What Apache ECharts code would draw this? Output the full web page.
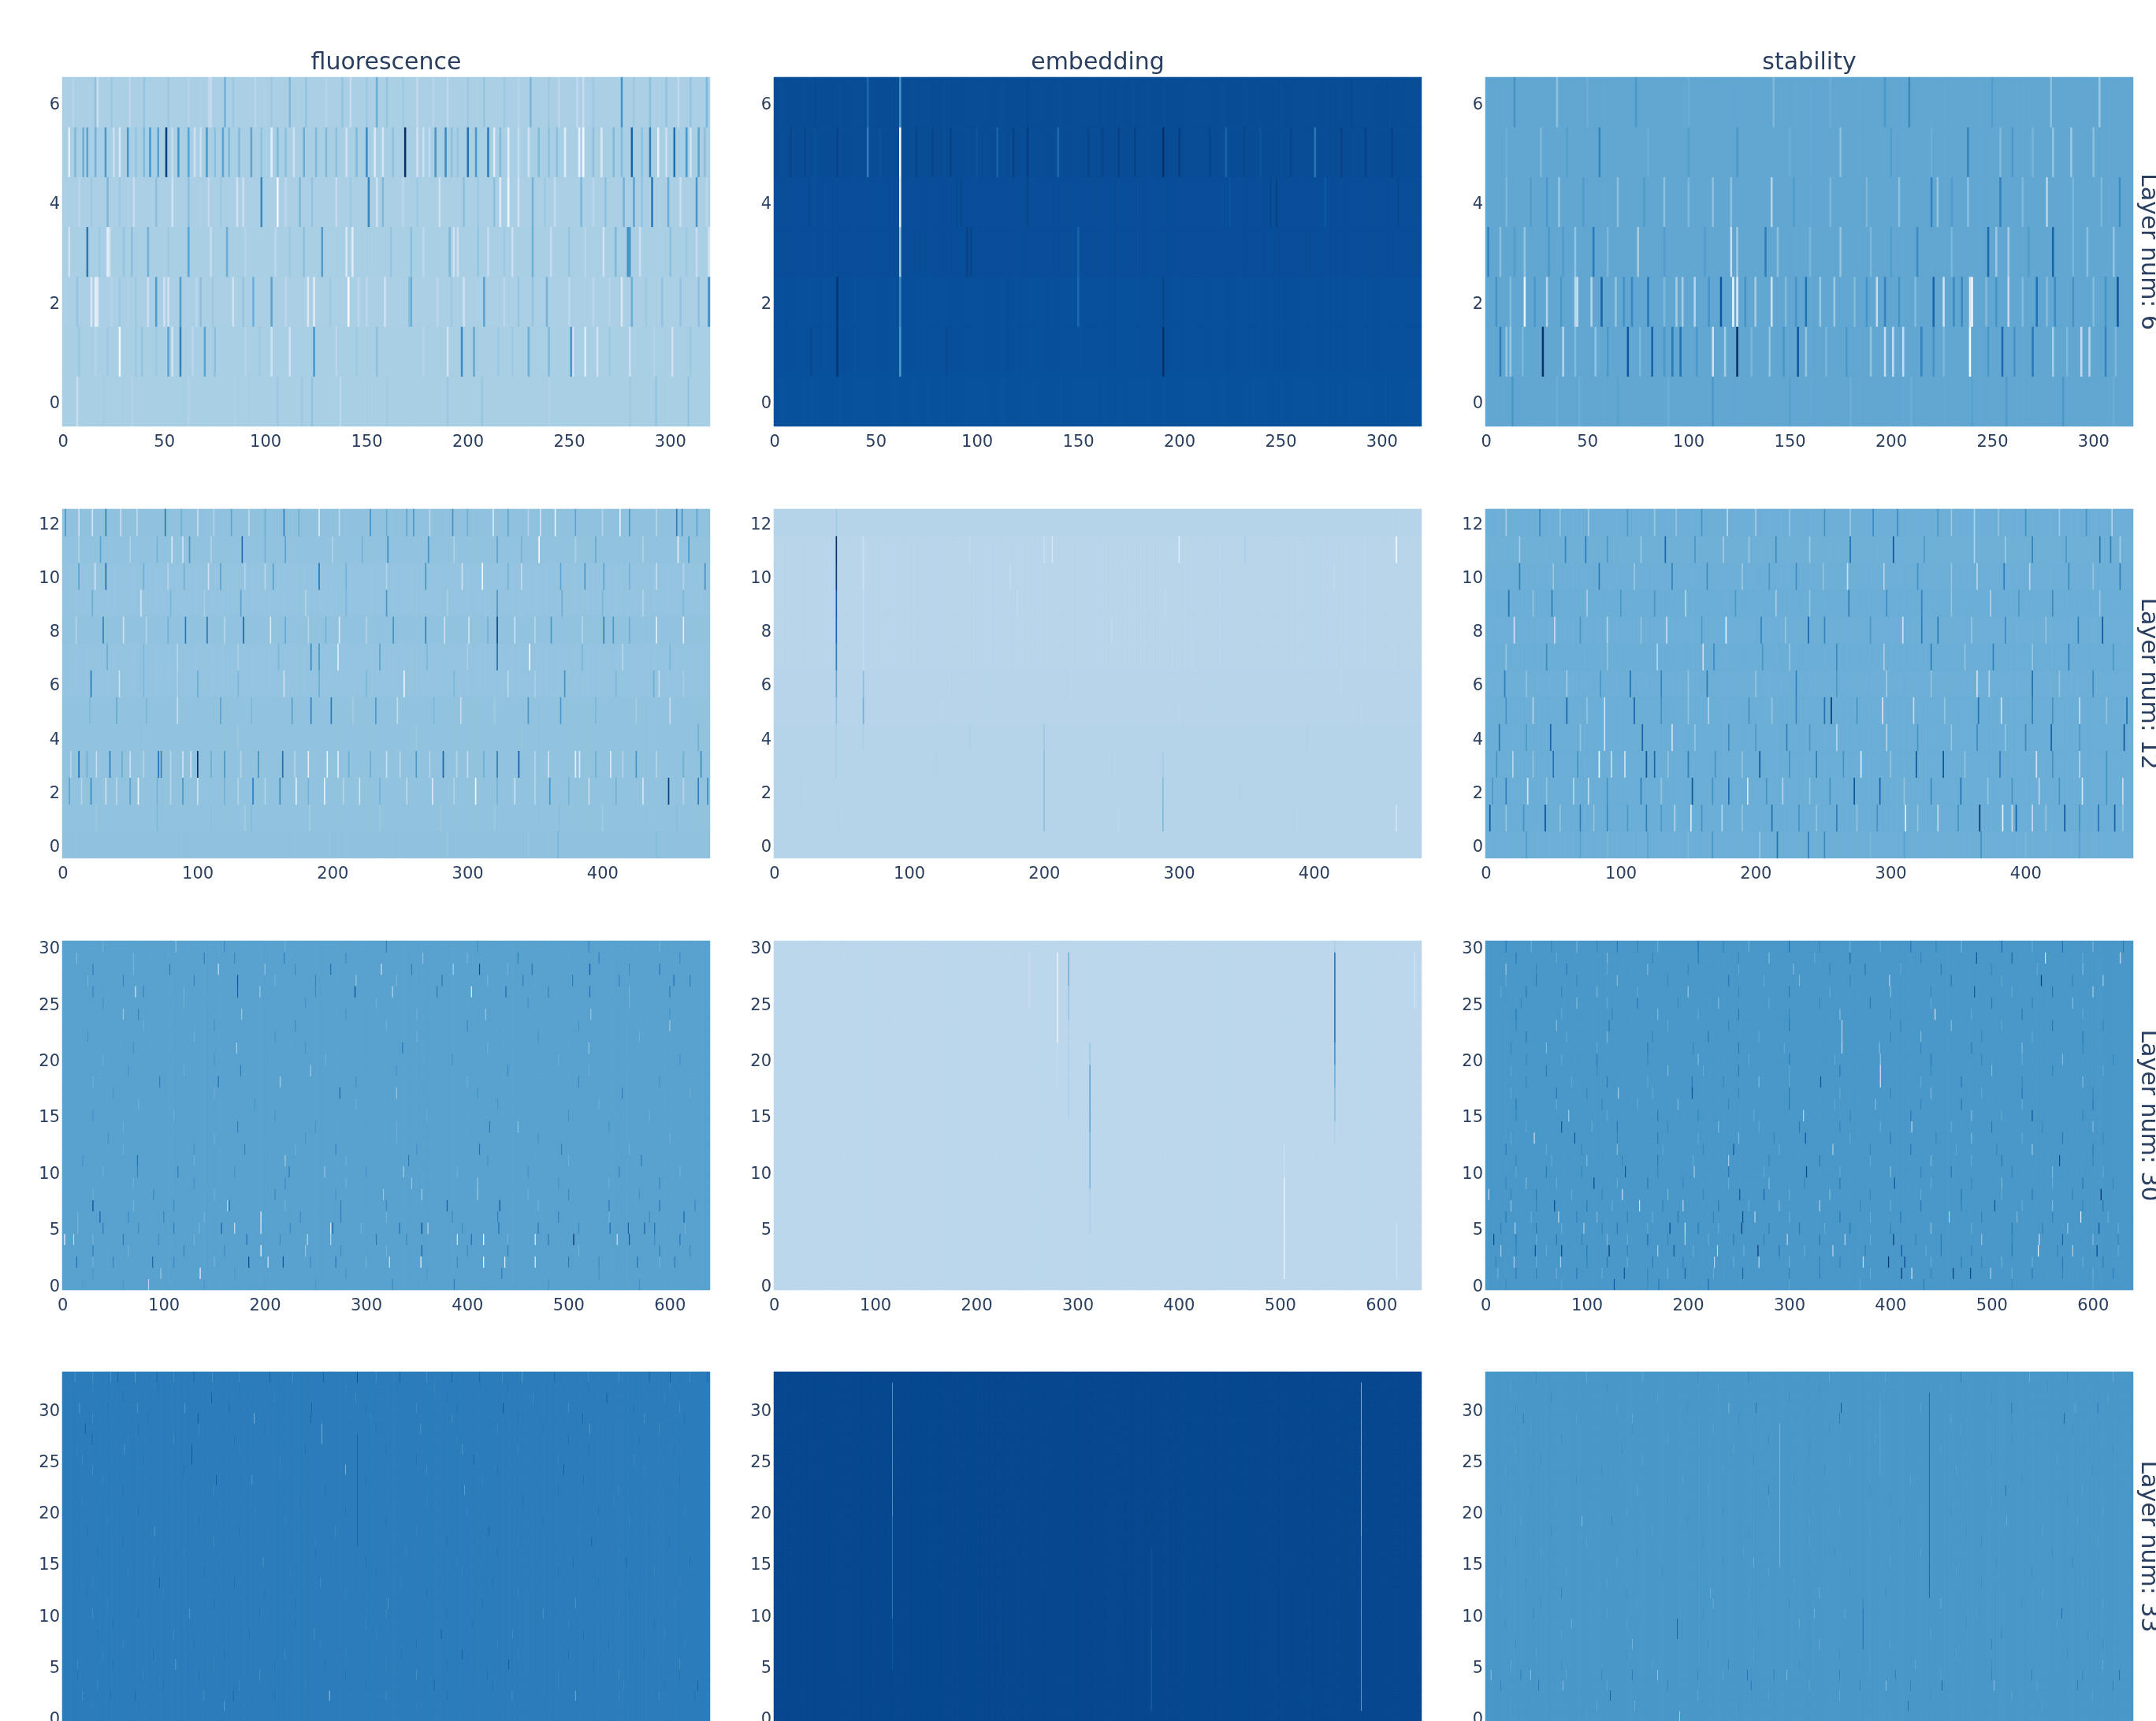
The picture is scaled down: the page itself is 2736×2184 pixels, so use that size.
<!DOCTYPE html>
<html><head><meta charset="utf-8">
<style>html,body{margin:0;padding:0;background:#fff;overflow:hidden}#c{width:2736px;height:2184px}</style>
<script src="https://cdn.jsdelivr.net/npm/echarts@6/dist/echarts.min.js"></script>
</head><body><div id="c"></div>
<script>
const columnTitles = ['fluorescence', 'embedding', 'stability'];
const layerNums = [6, 12, 30, 33];
const embedDims = [320, 480, 640, 1280];
const xTickSteps = [50, 100, 100, 200];
const yTickSteps = [2, 2, 5, 5];
const blues = ['#f7fbff','#deebf7','#c6dbef','#9ecae1','#6baed6','#4292c6','#2171b5','#08519c','#08306b'];

// Row background levels (0 = palest, 1 = darkest), row 0 first
const f6Base = [.34,.34,.335,.34,.335,.34,.335];
const e6Base = [.875,.88,.88,.885,.885,.89,.89];
const s6Base = [.53,.53,.53,.53,.53,.53,.53];
const f12Base = [.41,.405,.405,.405,.405,.405,.40,.40,.405,.40,.40,.405,.41];
const e12Base = [.30,.30,.30,.30,.30,.298,.298,.295,.295,.295,.295,.295,.30];
const s12Base = [.495,.50,.50,.50,.50,.50,.495,.50,.495,.50,.495,.49,.495];
const f30Base = Array.from({length:31},()=>.555);
const e30Base = Array.from({length:31},()=>.28);
const s30Base = Array.from({length:31},()=>.60);
const f33Base = Array.from({length:34},()=>.705);
const e33Base = Array.from({length:34},()=>.905);
const s33Base = Array.from({length:34},()=>.60);

// Streaks: row -> [column, level, column, level, ...]
const f6Streaks = {
 0:[7,.24,34,.31,106,.38,118,.38,123,.40,137,.28,190,.38,207,.39,280,.38,293,.40,309,.40,20,.36,62,.31,85,.32,160,.36,240,.32],
 1:[28,.02,39,.40,52,.55,54,.18,58,.68,70,.55,75,.42,103,.20,112,.20,124,.60,155,.42,190,.20,197,.65,203,.52,230,.50,240,.45,251,.60,252,.20,258,.12,264,.20,280,.22,301,.20,8,.38,16,.30,36,.38,46,.38,90,.30,135,.28,215,.38,270,.38,22,.38,64,.29,97,.38,145,.38,178,.30,222,.38,292,.30,310,.38],
 2:[14,.14,16,.10,17,.12,42,.22,46,.58,50,.20,52,.20,58,.58,84,.20,94,.50,103,.55,121,.15,124,.12,141,.00,159,.20,171,.42,172,.50,198,.20,208,.55,239,.48,276,.15,281,.50,314,.42,319,.62,7,.40,28,.38,68,.42,74,.38,110,.28,150,.28,185,.28,225,.40,250,.28,262,.28,296,.40,24,.30,36,.38,66,.28,89,.40,132,.38,146,.28,192,.38,218,.28,232,.40,270,.30,288,.38,305,.40],
 3:[3,.20,12,.72,22,.10,23,.20,34,.42,42,.48,62,.55,81,.50,119,.42,128,.58,140,.15,143,.12,162,.40,191,.45,193,.20,195,.22,232,.50,241,.25,267,.20,273,.45,279,.62,280,.60,285,.22,313,.25,319,.20,30,.40,73,.25,105,.28,172,.42,210,.25,222,.22,250,.40,300,.42,18,.38,52,.38,90,.30,112,.38,178,.28,205,.40,218,.38,258,.29,308,.38],
 4:[22,.46,35,.25,54,.20,62,.42,86,.20,89,.22,98,.65,106,.03,117,.45,123,.40,151,.68,155,.20,158,.45,186,.20,213,.42,216,.12,220,.04,225,.20,232,.48,256,.45,277,.48,282,.55,291,.72,299,.50,313,.60,14,.38,46,.42,72,.27,135,.25,175,.38,198,.42,243,.26,268,.42,305,.22,8,.28,28,.38,78,.38,110,.28,142,.38,168,.28,205,.38,238,.38,262,.28,286,.40,318,.28],
 5:[3,.10,6,.45,10,.50,12,.55,21,.60,28,.15,32,.60,43,.60,47,.55,51,.95,57,.60,62,.55,71,.60,79,.55,93,.55,103,.10,106,.45,119,.50,150,.65,154,.15,158,.18,169,1.0,175,.20,184,.60,189,.65,200,.75,204,.60,210,.70,213,.12,220,.10,248,.12,255,.08,257,.02,266,.15,281,.80,290,.70,294,.10,302,.75,308,.60,314,.55,36,.40,65,.20,82,.45,110,.42,130,.45,140,.20,178,.22,195,.40,230,.20,240,.42,272,.45,286,.42,310,.18,16,.48,25,.22,40,.45,54,.24,68,.22,75,.42,87,.44,98,.42,114,.22,125,.45,135,.42,145,.45,163,.42,181,.25,192,.42,216,.44,225,.24,235,.44,244,.42,262,.42,276,.44,298,.22,317,.42],
 6:[16,.42,17,.22,33,.28,40,.40,72,.27,73,.25,80,.48,84,.38,112,.45,120,.40,138,.40,142,.25,155,.50,160,.40,175,.27,190,.27,208,.40,231,.46,245,.28,254,.27,257,.24,276,.62,290,.42,298,.40,304,.27,310,.40,318,.46,5,.30,24,.38,52,.38,62,.30,95,.29,103,.38,130,.30,150,.38,168,.38,183,.30,200,.38,218,.38,225,.30,240,.38,262,.38,282,.38]
};
const e6Streaks = {
 1:[31,.98,62,.60,192,1.0,18,.90,85,.90],
 2:[31,.98,62,.65,150,.78,192,.91,135,.89],
 3:[62,.38,150,.80,95,.93,97,.92,72,.89,262,.89],
 4:[62,.10,17,.90,90,.91,92,.91,125,.91,245,.91,248,.92,308,.91,272,.85,225,.86],
 5:[8,.92,15,.92,31,.93,46,.70,62,.00,110,.80,125,.95,140,.78,178,.93,192,1.0,200,.95,223,.80,267,.72,87,.93,170,.93,280,.93,292,.93,305,.93,20,.87,52,.87,70,.92,78,.92,100,.86,118,.93,155,.92,162,.92,215,.92,232,.92,240,.86,255,.92],
 6:[46,.78,62,.62,20,.90,125,.90,285,.90]
};
const s6Streaks = {
 0:[13,.60,35,.50,46,.50,112,.60,180,.50,257,.58,285,.60,310,.50,65,.56,90,.50,150,.56,210,.50,240,.56],
 1:[7,.70,10,.40,12,.38,28,1.0,38,.30,54,.40,70,.85,82,.80,92,.72,96,.75,112,.20,118,.35,124,1.0,140,.40,154,.85,158,.40,190,.40,197,.25,201,.25,206,.25,215,.68,221,.62,239,.00,255,.78,261,.62,270,.72,280,.35,294,.25,298,.30,306,.68,18,.46,44,.44,60,.60,76,.46,88,.60,104,.60,131,.46,147,.60,168,.46,178,.60,226,.46,248,.60,287,.46,311,.46],
 2:[5,.62,19,.08,30,.30,44,.28,45,.25,52,.30,57,.80,64,.40,72,.66,80,.72,94,.35,97,.35,103,.30,116,.85,122,.05,124,.12,133,.36,141,.20,158,.75,165,.38,172,.38,193,.25,197,.68,221,.80,226,.20,231,.65,235,.65,239,.15,240,.05,258,.25,272,.75,281,.65,290,.62,312,.85,12,.44,24,.60,37,.60,68,.62,88,.45,110,.62,128,.62,148,.44,153,.62,182,.44,188,.62,204,.62,212,.44,247,.44,252,.62,265,.44,277,.44,300,.44,306,.62],
 3:[1,.68,7,.42,19,.40,31,.60,44,.40,53,.72,75,.35,121,.22,124,.38,138,.70,144,.42,175,.40,213,.65,248,.78,252,.38,258,.35,280,.80,297,.42,310,.40,14,.58,38,.58,60,.46,88,.58,108,.58,160,.46,190,.46,200,.58,230,.46,268,.58,290,.46],
 4:[30,.60,36,.40,65,.42,88,.42,112,.42,121,.42,141,.30,204,.42,220,.68,223,.40,238,.42,254,.68,265,.45,277,.30,313,.65,10,.46,22,.58,48,.58,78,.58,100,.46,152,.58,170,.46,188,.46,230,.58,290,.46,304,.46],
 5:[27,.45,56,.68,124,.60,175,.42,238,.68,254,.45,260,.60,280,.40,289,.38,300,.42,10,.50,40,.57,80,.50,100,.57,150,.50,200,.57,220,.50,270,.47],
 6:[14,.62,35,.42,74,.60,142,.45,197,.60,209,.66,279,.42,303,.38,50,.50,100,.50,170,.50,250,.58]
};
const f12Streaks = {
 0:[92,.42,367,.46,440,.44,60,.42,200,.42,285,.39,345,.39],
 1:[70,.45,183,.36,368,.43,135,.36,140,.44,280,.38,320,.38,400,.37,455,.43,25,.38,110,.42,235,.38],
 2:[21,.65,32,.20,56,.05,89,.60,141,.70,161,.65,173,.10,194,.07,274,.15,306,.05,361,.60,449,.95,471,.70,478,.65,5,.55,50,.55,100,.22,220,.20,335,.22,390,.22,430,.18,14,.30,40,.28,70,.48,80,.30,120,.48,130,.30,150,.30,182,.48,208,.30,235,.48,255,.28,290,.30,322,.48,350,.30,375,.48,410,.48,460,.30],
 3:[12,.75,35,.70,71,.75,73,.68,89,.20,95,.20,100,1.0,163,.75,182,.10,196,.08,204,.12,262,.60,282,.80,322,.70,338,.85,380,.10,383,.15,406,.15,473,.65,25,.25,50,.22,120,.60,145,.62,240,.22,300,.25,360,.20,425,.62,6,.30,18,.50,44,.50,60,.30,80,.30,110,.50,132,.30,172,.30,212,.50,228,.50,250,.30,272,.30,292,.30,312,.50,350,.30,395,.50,415,.30,440,.30,460,.50],
 4:[58,.42,262,.38,471,.50,130,.38,340,.39],
 5:[117,.55,170,.55,184,.68,199,.72,232,.60,248,.25,345,.60,369,.60,40,.52,85,.25,295,.25,450,.25,20,.46,62,.46,140,.46,215,.36,275,.46,320,.36,395,.46,425,.36],
 6:[21,.72,42,.20,164,.20,253,.07,372,.62,438,.50,442,.25,100,.50,190,.50,330,.28,60,.46,85,.34,130,.46,225,.46,290,.46,350,.34,410,.46,460,.34],
 7:[184,.65,190,.60,204,.10,235,.55,322,.75,346,.05,33,.50,85,.30,415,.28,60,.46,130,.34,160,.46,270,.46,300,.34,385,.46,450,.46],
 8:[30,.68,91,.72,107,.72,134,.78,154,.15,205,.15,245,.62,269,.68,283,.20,301,.20,322,.90,362,.60,401,.70,408,.60,440,.12,460,.12,45,.20,165,.52,335,.20,10,.30,62,.30,78,.48,120,.30,182,.30,195,.48,225,.30,315,.48,350,.30,385,.30,420,.50],
 9:[58,.20,132,.55,240,.60,322,.60,370,.50,22,.50,180,.30,430,.30,80,.46,105,.34,210,.46,285,.34,400,.46,460,.46],
 10:[12,.55,24,.20,32,.78,108,.20,117,.55,156,.55,190,.72,269,.62,296,.20,311,.02,369,.55,387,.60,401,.55,476,.62,60,.50,150,.28,340,.25,440,.25,78,.30,90,.48,135,.30,210,.48,240,.30,330,.48,420,.48,460,.30],
 11:[81,.15,89,.20,94,.60,133,.78,165,.55,241,.65,271,.62,322,.55,353,.02,456,.10,464,.60,28,.55,395,.52,12,.32,50,.32,70,.48,110,.32,150,.48,200,.32,222,.48,290,.32,340,.48,380,.32,430,.32],
 12:[12,.20,22,.18,32,.70,43,.22,76,.72,164,.70,190,.15,228,.62,255,.55,289,.62,319,.15,354,.20,365,.08,413,.10,455,.70,459,.62,2,.60,100,.25,125,.55,260,.60,330,.55,380,.55,420,.60,470,.55,55,.28,88,.50,112,.30,138,.28,150,.50,175,.50,205,.28,240,.50,272,.28,300,.50,345,.30,400,.30,440,.30]
};
const e12Streaks = {
 1:[200,.42,288,.45,461,.18,48,.32,255,.28,385,.32],
 2:[200,.42,288,.44,20,.32,345,.32],
 3:[46,.34,200,.42,288,.36,120,.32,250,.32],
 4:[46,.34,66,.33,200,.38,145,.33,395,.32],
 5:[46,.42,66,.48,125,.28,300,.28,435,.28],
 6:[46,.52,66,.42,130,.28,220,.28,420,.28],
 7:[46,.70,66,.26,295,.27,310,.28,460,.28],
 8:[46,.80,66,.25,250,.27,420,.28],
 9:[46,.82,66,.25,180,.26,290,.27],
 10:[46,.95,66,.20,175,.26,415,.27],
 11:[46,1.0,66,.22,200,.24,206,.18,300,.12,349,.33,461,.02,145,.27],
 12:[46,.36,461,.31]
};
const s12Streaks = {
 0:[168,.60,203,.38,216,.75,239,.70,251,.65,367,.62,30,.58,70,.56,120,.56,310,.56,440,.56,90,.46,150,.45,285,.45,400,.46],
 1:[3,.85,44,.88,119,.70,152,.15,212,.75,311,.10,366,1.0,383,.08,393,.80,405,.25,429,.85,454,.75,466,.80,70,.70,90,.65,140,.30,175,.30,260,.70,335,.25,390,.25,15,.40,28,.62,55,.40,80,.40,105,.60,130,.60,160,.62,190,.40,232,.62,245,.40,275,.40,290,.62,320,.40,350,.62,415,.40,440,.62,472,.40],
 2:[31,.20,76,.25,153,.85,180,.75,194,.15,273,.85,292,.80,352,.75,442,.15,472,.25,15,.70,65,.30,115,.70,220,.30,330,.65,410,.30,5,.60,45,.40,90,.62,130,.40,168,.62,208,.62,240,.40,255,.62,310,.40,372,.40,390,.62,425,.62,460,.62],
 3:[84,.05,93,.25,103,.20,119,.85,125,.78,203,.85,278,.15,319,.85,339,.85,381,.70,408,.20,20,.30,50,.75,150,.70,245,.70,440,.30,8,.62,35,.40,68,.62,135,.40,170,.62,190,.40,225,.62,265,.62,300,.40,355,.40,420,.62,460,.62],
 4:[48,.80,88,.20,116,.80,138,.20,223,.70,297,.30,364,.65,419,.80,473,.85,10,.72,180,.65,260,.30,400,.65,30,.60,70,.40,155,.40,200,.60,240,.60,320,.60,345,.40,385,.40,440,.60],
 5:[60,.80,88,.20,110,.80,230,.68,251,.75,256,.95,294,.18,317,.25,365,.75,382,.20,405,.70,475,.75,35,.30,165,.30,440,.25,15,.62,75,.40,130,.62,150,.40,195,.62,212,.40,275,.62,340,.40,420,.62,460,.40],
 6:[14,.70,107,.75,164,.72,230,.70,297,.35,364,.20,373,.30,405,.75,60,.35,130,.68,450,.65,30,.40,85,.60,150,.40,200,.40,260,.60,330,.40,425,.40],
 7:[127,.30,161,.20,169,.65,295,.35,376,.70,432,.70,45,.65,260,.65,330,.70,15,.40,90,.40,205,.60,225,.40,355,.40,405,.40,465,.60],
 8:[21,.20,51,.25,134,.22,178,.10,204,.68,239,.80,251,.68,309,.20,323,.72,335,.72,439,.70,457,.85,90,.30,385,.65,70,.60,115,.40,160,.60,222,.40,285,.60,360,.40,415,.40],
 9:[17,.75,49,.70,125,.60,148,.30,269,.70,297,.65,323,.68,374,.32,75,.35,215,.35,420,.65,35,.40,100,.60,185,.60,240,.40,345,.40,395,.60,455,.40],
 10:[84,.72,138,.68,164,.65,268,.22,295,.30,364,.30,384,.70,403,.30,432,.65,25,.70,230,.65,470,.70,50,.38,110,.38,190,.38,210,.60,250,.40,320,.62,345,.40,450,.40],
 11:[59,.68,74,.72,133,.80,176,.35,270,.75,302,.85,362,.30,405,.68,455,.72,463,.70,470,.35,25,.35,215,.65,90,.60,115,.38,155,.60,195,.38,240,.38,325,.60,385,.38,430,.60],
 12:[76,.35,141,.40,179,.30,251,.62,287,.65,305,.65,362,.30,464,.30,15,.35,40,.65,105,.60,200,.35,335,.60,400,.62,55,.40,125,.38,160,.62,225,.40,270,.38,345,.38,380,.40,425,.38,445,.62]
};
const f30Streaks = {
 0:[85,.30,326,.65,387,.70,60,.60,480,.62,570,.62,20,.58,140,.60,250,.60],
 1:[97,.40,136,.10,434,.70,280,.62,530,.62,30,.60,170,.60,360,.60],
 2:[14,.75,89,.80,184,.90,203,.20,218,.85,323,.25,354,.10,416,.05,437,.10,467,.15,568,.75,50,.68,270,.72,500,.72,605,.72,30,.48,110,.65,150,.48,245,.65,300,.48,390,.65,530,.65,590,.48],
 3:[196,.05,355,.80,30,.70,120,.68,240,.40,440,.70,590,.70,65,.48,160,.65,275,.65,320,.48,400,.65,510,.48,620,.65],
 4:[2,.10,11,.30,182,.75,242,.30,265,.30,390,.20,404,.75,416,.02,467,.15,505,.98,548,.25,560,.85,60,.72,310,.72,480,.72,610,.72,30,.48,95,.65,130,.48,215,.65,340,.65,440,.48,585,.65],
 5:[157,.80,170,.25,196,.15,265,.12,267,.80,333,.75,355,.90,361,.30,431,.75,541,.75,559,.80,40,.70,110,.70,470,.72,575,.80,585,.75,15,.48,75,.65,135,.48,225,.65,295,.48,395,.65,510,.65,615,.48],
 6:[37,.80,196,.10,614,.80,100,.68,275,.70,430,.70,490,.68,15,.48,65,.65,140,.48,235,.65,320,.48,385,.65,540,.48,580,.65],
 7:[30,.88,163,.30,380,.82,432,.85,165,.72,275,.70,540,.70,590,.72,70,.48,110,.65,220,.48,320,.65,470,.48,625,.65],
 8:[317,.40,355,.38,410,.38,90,.66,210,.66,500,.66,30,.50,150,.50,270,.62,460,.50,570,.62],
 9:[410,.40,220,.66,345,.40,590,.66,70,.50,130,.62,280,.50,490,.62,540,.50],
 10:[114,.70,224,.72,259,.40,337,.35,74,.68,550,.68,40,.50,170,.62,300,.62,390,.50,460,.62,610,.50],
 11:[74,.75,342,.72,572,.70,220,.38,20,.62,130,.50,280,.50,420,.62,500,.50],
 12:[412,.75,493,.70,180,.68,270,.68,60,.50,130,.62,230,.50,350,.62,560,.50],
 13:[45,.62,150,.50,240,.62,330,.50,470,.62,600,.50],
 14:[173,.70,422,.72,450,.40,60,.50,250,.62,330,.50,540,.62],
 15:[30,.62,110,.50,210,.62,360,.50,500,.62,580,.50],
 16:[75,.50,190,.62,290,.50,430,.62,530,.50],
 17:[274,.78,553,.70,330,.40,50,.62,150,.50,410,.62,620,.50],
 18:[154,.75,215,.35,96,.70,510,.66,30,.50,290,.62,400,.50,590,.62],
 19:[176,.70,245,.38,440,.66,65,.62,120,.50,330,.62,520,.50],
 20:[40,.50,150,.62,260,.50,385,.62,490,.50,610,.62],
 21:[336,.72,172,.35,520,.40,70,.62,240,.62,420,.50],
 22:[25,.62,130,.50,210,.62,350,.50,470,.62,570,.50],
 23:[600,.38,230,.66,400,.66,80,.50,150,.62,320,.50,510,.62],
 24:[177,.38,418,.40,522,.40,60,.38,75,.68,280,.62,350,.50,600,.62],
 25:[40,.62,120,.50,240,.62,310,.50,460,.62,560,.50],
 26:[72,.20,173,.82,289,.90,326,.30,404,.12,438,.78,521,.75,30,.68,80,.68,195,.38,370,.72,480,.68,600,.70,120,.48,250,.65,560,.48],
 27:[173,.85,290,.40,504,.70,604,.75,620,.70,60,.68,130,.66,250,.68,375,.72,455,.70,550,.68,25,.48,210,.48,330,.48,420,.48],
 28:[106,.72,154,.25,265,.75,315,.25,386,.35,412,.90,464,.72,521,.85,30,.70,200,.40,345,.70,590,.72,70,.48,230,.65,440,.48,560,.65],
 29:[14,.45,219,.70,356,.42,140,.68,170,.66,450,.68,530,.68,70,.48,280,.65,400,.48,610,.65],
 30:[112,.42,160,.66,320,.68,520,.66,40,.50,220,.50,410,.62,590,.50]
};
const e30Runs = [[280,22,29,.03],[280,18,21,.25],[291,27,29,.55],[291,24,26,.42],[291,15,23,.33],[252,25,29,.22],[633,25,29,.18],
 [312,20,21,.40],[312,14,19,.60],[312,9,13,.50],[312,5,8,.35],[504,10,12,.20],[504,1,9,.03],
 [554,22,29,.85],[554,20,21,.70],[554,18,19,.55],[554,15,17,.45],[554,13,14,.33],[554,30,30,.35],[615,1,5,.20]];
const s30Streaks = {
 0:[127,.85,171,.72,220,.75,433,.70,20,.65,75,.55,300,.55,520,.65,600,.55,160,.65,370,.55],
 1:[137,.85,197,.80,254,.80,411,.95,421,.20,462,.95,479,.90,499,.35,30,.70,70,.50,90,.72,180,.50,330,.70,540,.70,600,.50,620,.70,12,.50,50,.68,115,.52,160,.68,225,.52,300,.68,380,.52,440,.68,520,.52,570,.68],
 2:[28,.35,74,.35,226,.30,270,.30,373,.25,398,1.0,414,.90,120,.72,165,.70,300,.50,330,.70,470,.70,510,.50,570,.72,610,.70,10,.68,50,.52,100,.68,140,.52,195,.68,245,.52,350,.68,440,.52,490,.68,540,.52,590,.52],
 3:[49,.85,75,.90,122,.95,170,.35,186,.85,229,.30,269,.95,343,.30,411,.85,546,.05,604,.90,15,.35,100,.72,255,.50,290,.72,450,.72,520,.72,580,.35,30,.68,60,.52,140,.68,205,.52,315,.52,375,.68,435,.52,480,.68,565,.68,625,.52],
 4:[8,.90,197,.30,298,.30,355,.30,403,.95,547,.25,30,.72,70,.72,120,.45,160,.78,245,.72,330,.72,450,.72,490,.40,570,.80,600,.45,50,.52,95,.68,140,.52,180,.68,220,.52,275,.68,380,.52,425,.68,520,.68,625,.68],
 5:[29,.30,97,.35,182,.90,197,.25,253,.95,606,.85,50,.72,130,.72,210,.72,310,.72,360,.72,440,.40,520,.72,575,.40,15,.68,75,.52,115,.68,160,.52,230,.52,280,.68,335,.52,400,.68,480,.52,550,.68,625,.52],
 6:[72,.30,254,.90,266,.30,458,.30,588,.10,20,.72,110,.45,190,.72,350,.72,410,.72,525,.45,45,.52,90,.68,140,.68,165,.52,225,.68,300,.52,380,.52,490,.68,560,.68,615,.52],
 7:[68,.90,152,.20,195,.30,330,.35,503,.85,25,.40,100,.72,230,.72,290,.45,430,.72,560,.45,610,.72,50,.68,125,.52,175,.68,260,.52,370,.68,400,.52,470,.68,530,.52,590,.68],
 8:[3,.30,135,.25,251,.85,275,.80,608,1.0,50,.72,180,.45,340,.45,470,.72,540,.72,25,.67,85,.52,115,.67,215,.67,300,.52,380,.67,430,.52,510,.52,580,.67],
 9:[107,.90,404,.85,40,.45,160,.72,280,.45,350,.72,510,.45,590,.72,20,.67,70,.52,130,.52,195,.67,240,.52,315,.67,440,.52,480,.67,560,.52,620,.67],
 10:[138,.85,206,.35,317,.90,60,.72,240,.72,400,.45,460,.72,560,.45,30,.53,95,.67,170,.67,275,.53,350,.53,430,.67,520,.67,610,.53],
 11:[240,.35,567,.90,100,.45,170,.72,330,.72,440,.45,510,.72,30,.67,65,.53,135,.67,205,.53,280,.67,380,.53,480,.53,600,.67],
 12:[245,.85,343,.35,20,.72,130,.45,420,.72,540,.40,600,.72,60,.53,95,.67,175,.53,215,.67,290,.53,380,.67,465,.53,505,.67],
 13:[48,.25,88,.85,316,.85,170,.72,250,.45,400,.72,480,.45,570,.72,25,.53,130,.67,210,.53,285,.67,360,.53,445,.67,530,.53,610,.67],
 14:[75,.85,421,.30,130,.72,230,.45,310,.72,500,.72,600,.45,40,.53,105,.53,180,.67,270,.53,350,.67,390,.53,460,.53,550,.67],
 15:[82,.35,314,.30,540,.85,170,.72,420,.72,480,.45,30,.67,120,.53,210,.67,265,.53,360,.67,510,.53,590,.67],
 16:[30,.72,190,.45,300,.72,385,.45,470,.72,600,.72,70,.53,115,.67,150,.53,240,.67,345,.53,430,.67,530,.53],
 17:[131,.35,204,.85,70,.72,300,.72,440,.45,530,.72,25,.53,100,.67,165,.53,250,.67,350,.53,400,.67,490,.53,600,.67],
 18:[331,.85,390,.20,120,.72,204,.72,270,.45,470,.72,590,.45,40,.67,85,.53,160,.53,235,.67,300,.53,430,.53,530,.67],
 19:[390,.20,60,.72,180,.45,250,.72,350,.72,500,.45,25,.53,110,.67,215,.53,300,.53,440,.67,560,.67,610,.53],
 20:[390,.42,110,.72,210,.45,300,.72,440,.72,570,.45,40,.67,75,.53,160,.67,260,.53,345,.53,490,.67,530,.53,620,.67],
 21:[352,.25,389,.45,60,.45,160,.72,250,.72,480,.72,530,.45,25,.67,110,.53,205,.67,295,.53,430,.67,590,.67],
 22:[352,.30,40,.72,120,.45,220,.72,430,.45,590,.72,80,.53,165,.67,270,.53,400,.67,490,.67,540,.53],
 23:[352,.30,122,.72,70,.45,300,.72,460,.45,560,.72,30,.67,180,.53,240,.67,410,.67,510,.53,610,.67],
 24:[444,.20,30,.72,170,.45,250,.72,350,.45,530,.72,75,.53,125,.67,210,.53,300,.67,400,.67,480,.53,590,.53],
 25:[90,.45,150,.72,230,.45,380,.72,500,.72,580,.45,35,.67,120,.53,190,.67,280,.53,330,.67,440,.53,540,.67],
 26:[40,.72,110,.45,200,.40,300,.72,400,.45,483,.85,560,.72,600,.35,15,.53,75,.67,150,.53,250,.67,340,.53,440,.67,520,.53],
 27:[399,.30,549,.95,50,.72,130,.45,240,.72,310,.45,460,.72,610,.38,20,.53,90,.67,180,.67,275,.53,360,.67,510,.53,580,.67],
 28:[20,.40,80,.72,160,.45,304,.45,375,.72,450,.72,590,.45,50,.67,120,.53,200,.67,250,.53,340,.67,410,.53,500,.67,545,.53],
 29:[553,.20,627,.25,30,.72,120,.45,210,.72,280,.45,360,.78,485,.85,520,.78,70,.53,165,.67,250,.67,325,.53,430,.67,590,.53],
 30:[20,.72,45,.50,90,.48,130,.72,170,.50,210,.75,260,.50,300,.75,360,.50,420,.72,470,.48,510,.78,570,.75,600,.48,630,.72,65,.67,110,.67,150,.67,235,.67,330,.67,390,.53,445,.67,540,.53]
};
const f33Streaks = {
 1:[320,.50,150,.72,950,.72,60,.68,700,.68],
 2:[144,.80,338,.85,528,.15,889,.55,1014,.40,40,.60,280,.60,640,.60,1180,.60,95,.78,420,.78,760,.78,1100,.65,1250,.78],
 3:[735,.85,1256,.85,70,.62,350,.62,850,.78,1110,.62,200,.76,480,.66,600,.76,980,.66,1190,.76],
 4:[390,.60,560,.78,700,.60,1100,.60,30,.76,160,.66,270,.76,840,.76,980,.66,1220,.76],
 5:[224,.45,882,.90,30,.62,100,.78,520,.78,1220,.60,300,.66,420,.76,640,.66,760,.76,1050,.76],
 6:[790,.85,180,.78,440,.62,1000,.78,80,.66,320,.76,560,.66,670,.76,900,.66,1150,.76],
 7:[120,.66,260,.76,510,.66,700,.76,860,.66,1080,.76,1230,.66],
 8:[498,.55,749,.90,220,.62,890,.62,70,.76,370,.76,620,.66,1030,.76,1190,.66],
 9:[100,.76,240,.66,460,.76,600,.66,810,.76,1000,.66,1170,.76],
 10:[251,.55,950,.55,60,.62,640,.62,150,.76,390,.76,760,.76,1100,.66],
 11:[644,.55,1014,.55,300,.78,90,.66,460,.76,830,.76,1210,.66],
 12:[50,.76,200,.66,400,.76,560,.66,720,.76,900,.66,1120,.76],
 13:[192,.85,510,.62,850,.78,60,.66,340,.76,670,.66,1060,.76,1220,.66],
 14:[130,.66,280,.76,450,.66,620,.76,790,.66,980,.76,1170,.66],
 15:[397,.55,1115,.85,600,.78,1010,.78,180,.66,780,.66,1240,.76],
 16:[70,.76,240,.66,500,.76,680,.66,860,.76,1100,.66],
 17:[1046,.85,300,.62,760,.78,120,.76,500,.66,900,.66,1200,.76],
 18:[183,.55,843,.85,540,.62,50,.76,350,.76,700,.66,1020,.66,1160,.76],
 19:[90,.66,270,.76,440,.66,640,.76,950,.76,1120,.66],
 20:[150,.76,380,.66,560,.76,800,.66,1060,.76,1230,.66],
 21:[40,.66,210,.76,470,.76,720,.66,910,.76,1090,.66],
 22:[795,.50,300,.62,1100,.62,120,.76,520,.76,980,.76],
 23:[304,.90,375,.50,1030,.78,80,.66,600,.76,830,.66,1220,.76],
 24:[560,.35,991,.90,60,.62,720,.62,240,.76,430,.66,860,.76,1150,.66],
 25:[256,.92,583,.98,813,.85,40,.62,1130,.62,160,.76,430,.66,700,.76,980,.66],
 26:[123,.55,256,.90,790,.55,480,.78,1040,.78,30,.66,350,.66,640,.76,900,.66,1210,.76],
 27:[59,.85,513,.40,583,.92,220,.60,1000,.78,130,.66,340,.76,780,.66,1140,.76],
 28:[46,.85,513,.38,708,.55,1042,.50,270,.62,860,.62,1180,.60,150,.76,400,.76,620,.76,950,.76],
 29:[268,.95,379,.40,491,.85,1028,.85,60,.62,770,.60,1150,.60,170,.76,610,.66,900,.76,1230,.76],
 30:[34,.50,149,.55,242,.55,493,.85,871,.95,700,.62,1000,.60,1220,.60,90,.76,330,.78,600,.76,780,.76,1130,.76],
 31:[295,.85,1076,.90,580,.62,930,.62,120,.76,420,.66,760,.76,1190,.66],
 32:[735,.62,190,.78,1040,.78,60,.66,350,.76,560,.66,880,.76,1200,.66],
 33:[96,.55,144,.50,187,.85,297,.55,516,.85,583,.95,667,.85,824,.85,909,.45,973,.85,1201,.90,1275,.85,25,.55,60,.60,110,.85,220,.60,260,.85,350,.60,410,.85,455,.60,620,.60,720,.60,770,.85,870,.60,1040,.60,1100,.60,1160,.85,1240,.60]
};
const e33Runs = [[234,20,32,.45],[234,10,19,.62],[234,5,9,.82],[1161,18,32,.25],[1161,1,17,.40],[746,1,8,.72],[746,9,16,.82],[746,24,32,.94]];
const f33Runs = [[583,17,27,.85]];
const s33Streaks = {
 0:[384,.20,200,.56,800,.56],
 1:[295,.45,835,.85,50,.55,220,.50,500,.65,1100,.55],
 2:[247,.95,420,.50,700,.50,1040,.50,100,.66,560,.54,880,.66,1200,.54],
 3:[153,.30,792,.30,902,.90,30,.72,105,.78,525,.78,740,.72,1005,.30,1170,.75,240,.50,360,.72,640,.50,840,.72,1090,.50,1240,.72],
 4:[11,.30,89,.30,340,.30,518,.85,596,.30,1253,.85,70,.78,290,.78,420,.72,700,.72,810,.75,1080,.75,1180,.72,160,.50,230,.72,470,.50,570,.74,900,.50,1000,.72],
 5:[50,.48,480,.72,850,.48,1220,.48,150,.66,330,.54,620,.66,760,.54,1000,.66],
 6:[100,.54,280,.66,530,.54,700,.66,930,.54,1150,.66],
 7:[290,.42,660,.45,1000,.72,60,.66,440,.66,800,.54,1220,.66],
 8:[379,.90,746,.85,1020,.72,150,.54,540,.66,880,.54,1190,.66],
 9:[379,.90,746,.85,170,.45,620,.48,40,.66,280,.54,950,.66,1130,.54],
 10:[746,.85,1139,.85,95,.72,650,.45,710,.50,240,.54,430,.66,970,.54],
 11:[746,.72,450,.45,900,.45,110,.66,300,.54,600,.66,1060,.66,1220,.54],
 12:[445,.42,877,.92,150,.72,660,.45,30,.54,280,.66,520,.54,790,.66,1100,.54],
 13:[80,.66,240,.54,420,.66,610,.54,980,.66,1180,.54],
 14:[160,.54,350,.66,560,.54,720,.66,930,.54,1080,.66],
 15:[530,.45,877,.72,1160,.72,40,.66,260,.54,470,.66,800,.54,1010,.66],
 16:[110,.54,300,.66,510,.54,690,.66,860,.54,1120,.66],
 17:[60,.66,200,.54,430,.66,640,.54,980,.66,1210,.54],
 18:[130,.66,330,.54,520,.66,760,.54,950,.66,1100,.54],
 19:[191,.30,250,.72,1030,.48,70,.54,400,.66,640,.54,820,.66,1170,.54],
 20:[30,.66,280,.54,470,.66,700,.54,920,.66,1220,.54],
 21:[140,.54,360,.66,560,.54,800,.66,1000,.54,1150,.66],
 22:[1028,.85,560,.72,300,.48,90,.66,440,.54,760,.66,1180,.54],
 23:[180,.66,390,.54,610,.66,840,.54,1060,.66],
 24:[40,.54,230,.66,470,.54,670,.66,930,.54,1200,.66],
 25:[110,.66,310,.54,530,.66,720,.54,1000,.66,1130,.54],
 26:[60,.54,270,.66,490,.54,640,.66,900,.54,1240,.66],
 27:[150,.66,360,.54,560,.66,770,.54,1040,.66],
 28:[90,.54,290,.66,450,.54,680,.66,940,.54,1160,.66],
 29:[1144,.90,75,.75,290,.48,700,.78,920,.48,180,.54,500,.66,1040,.66],
 30:[481,.35,535,.82,703,1.0,1040,.82,1210,.80,1165,.48,60,.66,260,.54,400,.66,860,.54],
 31:[130,.66,340,.54,600,.66,780,.54,1000,.66,1230,.54],
 32:[50,.54,240,.66,460,.54,660,.66,900,.54,1110,.66],
 33:[310,.50,520,.72,680,.48,940,.75,1075,.48,1240,.48,100,.68,200,.52,420,.68,790,.52,1150,.68]
};
const s33Runs = [[877,12,31,.92],[582,15,28,.38],[746,7,10,.85],[780,24,30,.50]];

const panels = [
 [f6Base,f6Streaks,[]],[e6Base,e6Streaks,[]],[s6Base,s6Streaks,[]],
 [f12Base,f12Streaks,[]],[e12Base,e12Streaks,[]],[s12Base,s12Streaks,[]],
 [f30Base,f30Streaks,[]],[e30Base,{},e30Runs],[s30Base,s30Streaks,[]],
 [f33Base,f33Streaks,f33Runs],[e33Base,{},e33Runs],[s33Base,s33Streaks,s33Runs]
];

const gridLefts = [79, 982, 1885], gridTops = [98, 646, 1194, 1741];
const gridW = 822, gridH = 443;
const ink = '#2a3f5f', fontFamily = '"DejaVu Sans", sans-serif';

const grids=[], xAxes=[], yAxes=[], series=[], graphics=[];
panels.forEach((p, i) => {
  const rowI = Math.floor(i/3), colI = i%3;
  const nx = embedDims[rowI], base = p[0], ny = base.length;
  const cells = base.map(v => new Array(nx).fill(v));
  Object.keys(p[1]).forEach(r => {
    const a = p[1][r];
    for (let k=0;k<a.length;k+=2) cells[r][a[k]] = a[k+1];
  });
  p[2].forEach(([x,r0,r1,v]) => { for (let r=r0;r<=r1;r++) cells[r][x]=v; });
  const data = [];
  for (let r=0;r<ny;r++) for (let c=0;c<nx;c++) data.push([c,r,cells[r][c]]);
  grids.push({left:gridLefts[colI],top:gridTops[rowI],width:gridW,height:gridH,containLabel:false,outerBoundsMode:'none',
    show:true,borderWidth:0,backgroundColor:echarts.color.lerp(base[0],blues)});
  const xs = xTickSteps[rowI], ys = yTickSteps[rowI];
  xAxes.push({type:'category',gridIndex:i,data:Array.from({length:nx},(_,k)=>String(k)),
    axisLine:{show:false},axisTick:{show:false},splitLine:{show:false},
    axisLabel:{interval:k=>k%xs===0,color:ink,fontSize:21,fontFamily,margin:10,hideOverlap:false}});
  yAxes.push({type:'category',gridIndex:i,data:Array.from({length:ny},(_,k)=>String(k)),
    axisLine:{show:false},axisTick:{show:false},splitLine:{show:false},
    axisLabel:{interval:k=>k%ys===0,color:ink,fontSize:21,fontFamily,margin:3,verticalAlign:'top',lineHeight:rowI===3?10:7,hideOverlap:false}});
  series.push({type:'heatmap',xAxisIndex:i,yAxisIndex:i,data,progressive:0,animation:false,silent:true,
    itemStyle:{borderWidth:0},emphasis:{disabled:true}});
});
columnTitles.forEach((t,c)=>graphics.push({type:'text',x:gridLefts[c]+gridW/2,y:80,silent:true,
  style:{text:t,fill:ink,font:'30px "DejaVu Sans", sans-serif',textAlign:'center',textVerticalAlign:'middle'}}));
layerNums.forEach((n,r)=>graphics.push({type:'text',x:2711,y:gridTops[r]+gridH/2,rotation:-Math.PI/2,silent:true,
  style:{text:'Layer num: '+n,fill:ink,font:'30px "DejaVu Sans", sans-serif',textAlign:'center',textVerticalAlign:'bottom'}}));

const chart = echarts.init(document.getElementById('c'),null,{renderer:'canvas',width:2736,height:2184});
chart.setOption({animation:false,backgroundColor:'#fff',grid:grids,xAxis:xAxes,yAxis:yAxes,series,
  graphic:graphics,
  visualMap:{show:false,type:'continuous',min:0,max:1,dimension:2,seriesIndex:series.map((_,i)=>i),inRange:{color:blues}}});
</script></body></html>
